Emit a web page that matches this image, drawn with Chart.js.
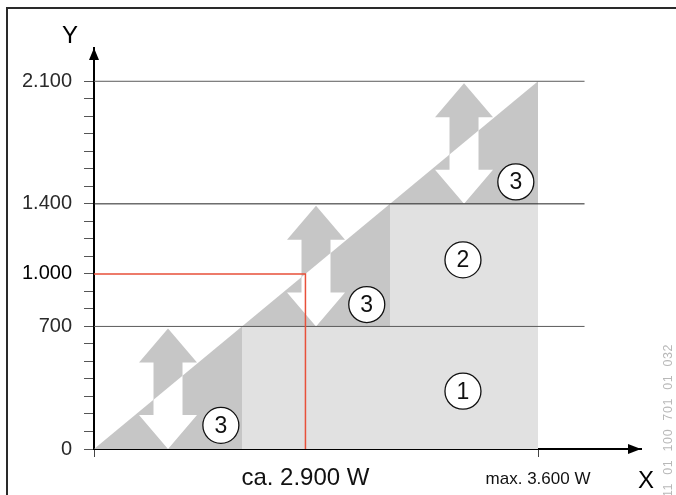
<!DOCTYPE html>
<html>
<head>
<meta charset="utf-8">
<script src="https://cdn.jsdelivr.net/npm/chart.js@4.4.1/dist/chart.umd.min.js"></script>
<style>
  html, body { margin: 0; padding: 0; background: #fff; }
  #wrap { width: 676px; height: 495px; }
</style>
</head>
<body>
<div id="wrap"><canvas id="chart" width="676" height="495"></canvas></div>
<script>
// heater stages (W): each band is one stage
const stageLevels = [0, 700, 1400, 2100];
const yTickValues = [0, 100, 200, 300, 400, 500, 600, 700, 800, 900, 1000,
                     1100, 1200, 1300, 1400, 1500, 1600, 1700, 1800, 1900, 2000, 2100];
const yTickLabels = { 0: '0', 700: '700', 1000: '1.000', 1400: '1.400', 2100: '2.100' };
const xTickValues = [0, 1000, 2100];
const xTickLabels = { 0: '', 1000: 'ca. 2.900 W', 2100: 'max. 3.600 W' };

// outlines of the shaded areas
const rampOutline = [{ x: 0, y: 0 }, { x: 2100, y: 2100 }, { x: 2100, y: 0 }];
const stepOutline = [
  { x: 700, y: 0 }, { x: 700, y: 700 }, { x: 1400, y: 700 },
  { x: 1400, y: 1400 }, { x: 2100, y: 1400 }, { x: 2100, y: 0 }
];
const levelLineEnd = 2320;
const demandLine = [{ x: 0, y: 1000 }, { x: 1000, y: 1000 }, { x: 1000, y: 0 }];

// double arrows (one per stage band) and numbered markers
const arrowCenters = [350, 1050, 1750];
const markers = [
  { x: 1745, y: 330, text: '1' },
  { x: 1745, y: 1080, text: '2' },
  { x: 600, y: 135, text: '3' },
  { x: 1290, y: 825, text: '3' },
  { x: 1995, y: 1525, text: '3' }
];

const FONT = 'Arial, "Liberation Sans", sans-serif';
const DARK = '#c6c6c6';
const LIGHT = '#e1e1e1';

const levelColors = { 700: '#5a5a5a', 1400: '#222222', 2100: '#5a5a5a' };
const levelSets = stageLevels.slice(1).map(v => ({
  label: 'level ' + v,
  data: [{ x: 0, y: v }, { x: levelLineEnd, y: v }],
  borderColor: levelColors[v],
  borderWidth: 1,
  pointRadius: 0,
  showLine: true,
  fill: false,
  order: 2
}));

function arrowPath(c, cx, ty, by) {
  const hw = 29, sw = 14.5, hl = 34;
  c.beginPath();
  c.moveTo(cx, ty);
  c.lineTo(cx + hw, ty + hl);
  c.lineTo(cx + sw, ty + hl);
  c.lineTo(cx + sw, by - hl);
  c.lineTo(cx + hw, by - hl);
  c.lineTo(cx, by);
  c.lineTo(cx - hw, by - hl);
  c.lineTo(cx - sw, by - hl);
  c.lineTo(cx - sw, ty + hl);
  c.lineTo(cx - hw, ty + hl);
  c.closePath();
}

const extras = {
  id: 'extras',
  beforeDraw(chart) {
    const c = chart.ctx;
    c.save();
    c.fillStyle = '#fff';
    c.fillRect(0, 0, chart.width, chart.height);
    c.fillStyle = '#2a2a2a';
    c.fillRect(6, 7, 2, chart.height);
    c.fillRect(6, 7, chart.width, 2);
    c.restore();
  },
  afterDatasetDraw(chart, args) {
    if (chart.data.datasets[args.index].label !== 'steps') return;
    const c = chart.ctx, xs = chart.scales.x, ys = chart.scales.y;
    arrowCenters.forEach((cx0, i) => {
      const lo = stageLevels[i], hi = stageLevels[i + 1];
      const cx = xs.getPixelForValue(cx0);
      const ty = ys.getPixelForValue(hi) + 2;
      const by = ys.getPixelForValue(lo);
      c.save();
      arrowPath(c, cx, ty, by);
      c.fillStyle = DARK;
      c.fill();
      // the part lying on the shaded triangle is white
      c.beginPath();
      c.moveTo(xs.getPixelForValue(lo), ys.getPixelForValue(lo));
      c.lineTo(xs.getPixelForValue(hi), ys.getPixelForValue(hi));
      c.lineTo(xs.getPixelForValue(hi), ys.getPixelForValue(lo));
      c.closePath();
      c.clip();
      arrowPath(c, cx, ty, by);
      c.fillStyle = '#fff';
      c.fill();
      c.restore();
    });
  },
  afterDatasetsDraw(chart) {
    const c = chart.ctx, xs = chart.scales.x, ys = chart.scales.y;
    c.save();
    markers.forEach(m => {
      const px = xs.getPixelForValue(m.x), py = ys.getPixelForValue(m.y);
      c.beginPath();
      c.arc(px, py, 18, 0, Math.PI * 2);
      c.fillStyle = '#fff';
      c.fill();
      c.lineWidth = 1.3;
      c.strokeStyle = '#111';
      c.stroke();
      c.fillStyle = '#111';
      c.font = '23px ' + FONT;
      c.textAlign = 'center';
      c.textBaseline = 'middle';
      c.fillText(m.text, px, py + 1);
    });
    c.restore();
  },
  afterDraw(chart) {
    const c = chart.ctx, a = chart.chartArea;
    c.save();
    c.fillStyle = '#000';
    // arrow heads on the axes
    c.beginPath();
    c.moveTo(a.left, a.top);
    c.lineTo(a.left + 5, a.top + 12);
    c.lineTo(a.left - 5, a.top + 12);
    c.closePath();
    c.fill();
    c.beginPath();
    c.moveTo(a.right, a.bottom);
    c.lineTo(a.right - 13, a.bottom - 5);
    c.lineTo(a.right - 13, a.bottom + 5);
    c.closePath();
    c.fill();
    // axis names
    c.font = '24px ' + FONT;
    c.textAlign = 'center';
    c.textBaseline = 'middle';
    c.fillText('Y', a.left - 24, a.top - 12);
    c.fillText('X', a.right + 5, a.bottom + 32);
    // drawing number
    c.translate(669, 497);
    c.rotate(-Math.PI / 2);
    c.font = '12.5px ' + FONT;
    c.fillStyle = '#b8b8b8';
    c.textAlign = 'left';
    if ('letterSpacing' in c) c.letterSpacing = '0.6px';
    c.fillText('11  01  100  701  01  032', 0, 0);
    c.restore();
  }
};

new Chart(document.getElementById('chart'), {
  type: 'scatter',
  data: {
    datasets: [
      {
        label: 'demand',
        data: demandLine,
        borderColor: '#e8503a',
        borderWidth: 1.5,
        pointRadius: 0,
        showLine: true,
        fill: false,
        order: 0
      },
      ...levelSets,
      {
        label: 'steps',
        data: stepOutline,
        borderWidth: 0,
        borderColor: 'rgba(0,0,0,0)',
        backgroundColor: LIGHT,
        pointRadius: 0,
        showLine: true,
        fill: 'origin',
        order: 3
      },
      {
        label: 'ramp',
        data: rampOutline,
        borderWidth: 0,
        borderColor: 'rgba(0,0,0,0)',
        backgroundColor: DARK,
        pointRadius: 0,
        showLine: true,
        fill: 'origin',
        order: 4
      }
    ]
  },
  options: {
    responsive: false,
    animation: false,
    devicePixelRatio: 1,
    layout: { padding: { top: 48, right: 35, left: 0, bottom: 0 } },
    plugins: { legend: { display: false }, tooltip: { enabled: false } },
    scales: {
      x: {
        type: 'linear',
        min: 0,
        max: 2587,
        z: 1,
        afterBuildTicks: s => { s.ticks = xTickValues.map(v => ({ value: v })); },
        afterFit: s => { s.height = 46; },
        border: { display: true, color: '#000', width: 2 },
        grid: {
          drawOnChartArea: false,
          drawTicks: true,
          tickLength: 8,
          color: ctx => (ctx.tick && ctx.tick.value === 1000) ? 'rgba(0,0,0,0)' : '#444'
        },
        ticks: {
          autoSkip: false,
          maxRotation: 0,
          padding: 0,
          color: '#111',
          callback: v => xTickLabels[v] ?? '',
          font: ctx => (ctx.tick && ctx.tick.value === 2100)
            ? { family: FONT, size: 17, lineHeight: '45px' }
            : { family: FONT, size: 24, lineHeight: '42px' }
        }
      },
      y: {
        type: 'linear',
        min: 0,
        max: 2290,
        z: 1,
        afterBuildTicks: s => { s.ticks = yTickValues.map(v => ({ value: v })); },
        afterFit: s => { s.width = 94; },
        border: { display: true, color: '#000', width: 2 },
        grid: {
          drawOnChartArea: false,
          drawTicks: true,
          tickLength: 10,
          color: '#555'
        },
        ticks: {
          autoSkip: false,
          padding: 12,
          callback: v => yTickLabels[v] ?? '',
          color: ctx => (ctx.tick && ctx.tick.value === 1000) ? '#000' : '#2a2a2a',
          font: { family: FONT, size: 20 }
        }
      }
    }
  },
  plugins: [extras]
});
</script>
</body>
</html>
